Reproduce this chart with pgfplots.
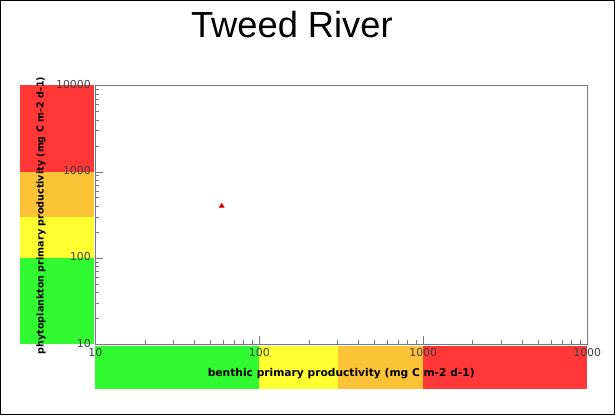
\documentclass[border=0pt]{standalone}
\usepackage{pgfplots}
\pgfplotsset{compat=1.18}
\usepackage{fontspec}
\setmainfont{DejaVu Sans}
\newfontfamily\titlefont{Liberation Sans}

\definecolor{bandred}{RGB}{255,55,55}
\definecolor{bandorange}{RGB}{252,195,55}
\definecolor{bandyellow}{RGB}{255,255,50}
\definecolor{bandgreen}{RGB}{50,250,50}
\definecolor{axisgray}{RGB}{120,120,120}

\begin{document}
\begin{tikzpicture}
\draw[line width=1.2pt] (4pt,2pt) rectangle (613pt,413pt);
\node[font=\titlefont\fontsize{36}{36}\selectfont] at (293pt,389pt) {Tweed River};

% rating bands along the two axes
\begin{axis}[
  at={(98pt,72pt)}, anchor=south west,
  scale only axis, width=488pt, height=257pt,
  xmode=log, ymode=log,
  xmin=10, xmax=10000, ymin=10, ymax=10000,
  clip=false, axis lines=none,
]
\fill[bandred]    ([xshift=-75pt]axis cs:10,10000) rectangle ([xshift=-1pt]axis cs:10,1000);
\fill[bandorange] ([xshift=-75pt]axis cs:10,1000)  rectangle ([xshift=-1pt]axis cs:10,300);
\fill[bandyellow] ([xshift=-75pt]axis cs:10,300)   rectangle ([xshift=-1pt]axis cs:10,100);
\fill[bandgreen]  ([xshift=-75pt]axis cs:10,100)   rectangle ([xshift=-1pt]axis cs:10,10);
\fill[bandgreen]  ([yshift=-2pt]axis cs:10,10)     rectangle ([yshift=-44pt]axis cs:100,10);
\fill[bandyellow] ([yshift=-2pt]axis cs:100,10)    rectangle ([yshift=-44pt]axis cs:300,10);
\fill[bandorange] ([yshift=-2pt]axis cs:300,10)    rectangle ([yshift=-44pt]axis cs:1000,10);
\fill[bandred]    ([yshift=-2pt]axis cs:1000,10)   rectangle ([yshift=-44pt]axis cs:10000,10);
\end{axis}

\begin{axis}[
  at={(98pt,72pt)}, anchor=south west,
  scale only axis, width=488pt, height=257pt,
  xmode=log, ymode=log,
  xmin=10, xmax=10000, ymin=10, ymax=10000,
  clip=false,
  axis line style={axisgray},
  tick style={axisgray},
  tick align=inside,
  major tick length=8pt, minor tick length=4pt,
  xtick pos=bottom, ytick pos=left,
  xtick={10,100,1000,10000}, xticklabels={10,100,1000,1000},
  ytick={10,100,1000,10000}, yticklabels={10,100,1000,10000},
  tick label style={font=\fontsize{10.8}{11}\selectfont, text=black!75},
  xticklabel style={yshift=-1pt},
  yticklabel style={xshift=-1pt, yshift=1pt},
]
\addplot[only marks, mark=triangle*, mark size=2.8pt, color=red!85!black] coordinates {(59,400)};

\node[rotate=90, anchor=west, inner sep=0pt, font=\bfseries\fontsize{9.5}{10}\selectfont]
  at ([xshift=-54pt,yshift=-10pt]rel axis cs:0,0) {phytoplankton primary productivity (mg C m-2 d-1)};
\node[font=\bfseries\fontsize{10.6}{11}\selectfont] at ([yshift=-29pt]rel axis cs:0.5,0)
  {benthic primary productivity (mg C m-2 d-1)};
\end{axis}
\end{tikzpicture}
\end{document}
